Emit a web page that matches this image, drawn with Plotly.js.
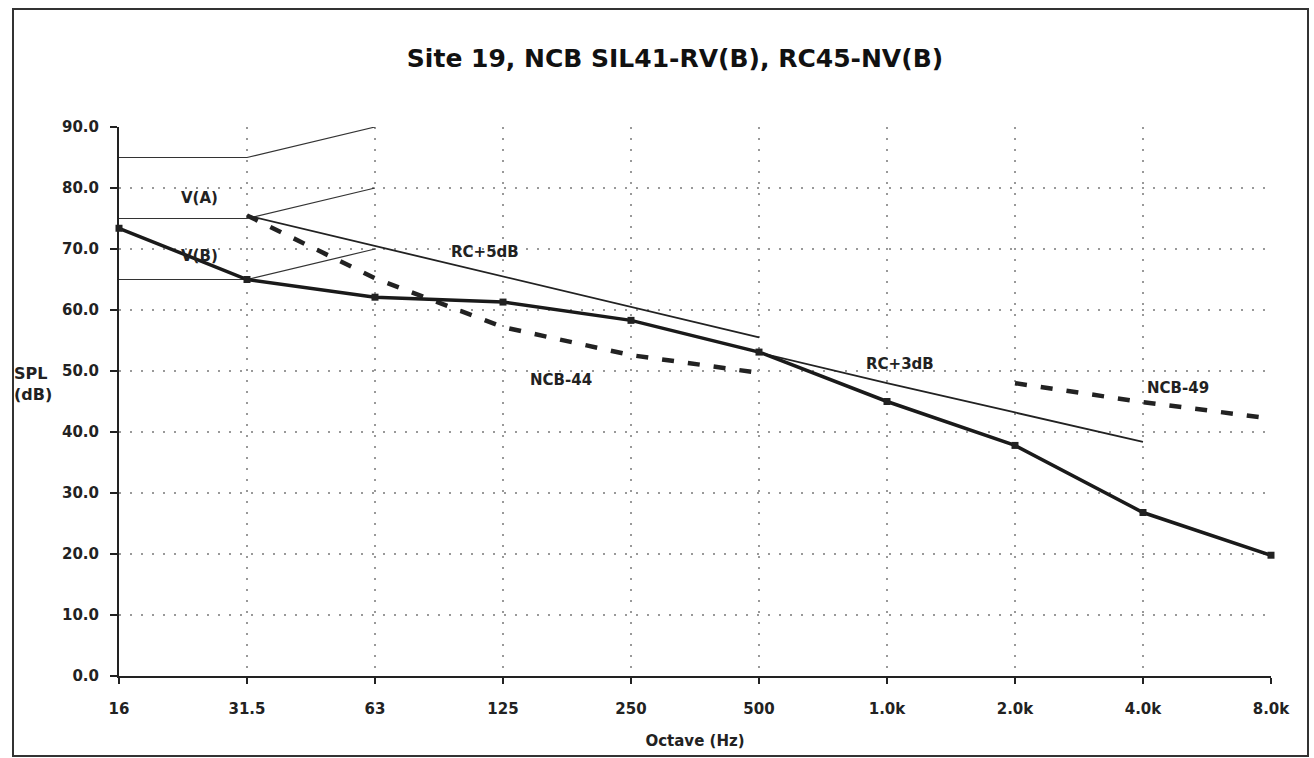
<!DOCTYPE html>
<html>
<head>
<meta charset="utf-8">
<script src="https://cdn.plot.ly/plotly-3.0.1.min.js"></script>
<style>
  html, body { margin: 0; padding: 0; background: #fff; }
  #chart { width: 1314px; height: 758px; }
  #frame { position: absolute; left: 12px; top: 8px; width: 1293px; height: 745px;
           border: 2px solid #333; pointer-events: none; }
</style>
</head>
<body>
<div id="chart"></div>
<div id="frame"></div>
<script>
// Octave band centre labels
const bands = ["16", "31.5", "63", "125", "250", "500", "1.0k", "2.0k", "4.0k", "8.0k"];

// Measured spectrum (dB)
const measured = [73.4, 65.0, 62.1, 61.3, 58.3, 53.1, 45.0, 37.8, 26.8, 19.8];

// Vibration limit curves V(A)/V(B) region (16 - 63 Hz)
const vBands = ["16", "31.5", "63"];
const vTop = [85, 85, 90];
const vA = [75, 75, 80];
const vB = [65, 65, 70];

// RC+5dB (31.5 - 500 Hz)
const rc5Bands = ["31.5", "63", "125", "250", "500"];
const rc5 = [75.5, 70.5, 65.5, 60.5, 55.5];

// RC+3dB (500 - 4k Hz)
const rc3Bands = ["500", "1.0k", "2.0k", "4.0k"];
const rc3 = [53.0, 48.0, 43.2, 38.4];

// NCB-44 (31.5 - 500 Hz)
const ncb44Bands = ["31.5", "63", "125", "250", "500"];
const ncb44 = [75.5, 65.2, 57.2, 52.6, 49.7];

// NCB-49 (2k - 8k Hz)
const ncb49Bands = ["2.0k", "4.0k", "8.0k"];
const ncb49 = [48.0, 44.9, 42.2];

// Y axis ticks
const yTicks = [0, 10, 20, 30, 40, 50, 60, 70, 80, 90];
const yTickText = yTicks.map(v => v.toFixed(1));

const FONT = "DejaVu Sans, Arial, sans-serif";
const thin = {color: "#333", width: 1.2};

const traces = [
  {x: vBands, y: vTop, mode: "lines", line: thin, hoverinfo: "skip"},
  {x: vBands, y: vA, mode: "lines", line: thin, hoverinfo: "skip"},
  {x: vBands, y: vB, mode: "lines", line: thin, hoverinfo: "skip"},
  {x: rc5Bands, y: rc5, mode: "lines", line: {color: "#222", width: 1.8}},
  {x: rc3Bands, y: rc3, mode: "lines", line: {color: "#222", width: 1.8}},
  {x: ncb44Bands, y: ncb44, mode: "lines", line: {color: "#222", width: 4.5, dash: "12px,14px"}},
  {x: ncb49Bands, y: ncb49, mode: "lines", line: {color: "#222", width: 4.5, dash: "12px,14px"}},
  {x: bands, y: measured, mode: "lines+markers", line: {color: "#1a1a1a", width: 3.5},
   marker: {symbol: "square", size: 7, color: "#222"}, cliponaxis: false}
];

const lblFont = {family: FONT, size: 15, color: "#222", weight: "bold"};
function lbl(text, x, y) {
  return {text: text, x: x, y: y, xref: "x", yref: "y", showarrow: false, font: lblFont};
}

const layout = {
  width: 1314, height: 758,
  margin: {l: 119, r: 43, t: 127, b: 82},
  paper_bgcolor: "#fff", plot_bgcolor: "#fff",
  showlegend: false,
  title: {
    text: "Site 19, NCB SIL41-RV(B), RC45-NV(B)",
    x: 675 / 1314, xref: "container", xanchor: "center",
    y: 1 - 58 / 758, yref: "container", yanchor: "middle",
    font: {family: FONT, size: 25, color: "#111", weight: "bold"}
  },
  xaxis: {
    type: "category", categoryorder: "array", categoryarray: bands,
    range: [0, 9],
    showline: true, linecolor: "#222", linewidth: 2,
    ticks: "outside", ticklen: 6, tickcolor: "#222", tickwidth: 1.5,
    ticklabelstandoff: 12,
    showgrid: true, gridcolor: "#999", griddash: "2px,9px", gridwidth: 1.5,
    tickfont: {family: FONT, size: 15, color: "#222", weight: "bold"},
    zeroline: false,
    title: {text: "Octave (Hz)", standoff: 18,
            font: {family: FONT, size: 15, color: "#222", weight: "bold"}}
  },
  yaxis: {
    range: [0, 90],
    tickvals: yTicks, ticktext: yTickText,
    showline: true, linecolor: "#222", linewidth: 2,
    ticks: "outside", ticklen: 7, tickcolor: "#222", tickwidth: 1.5,
    ticklabelstandoff: 8,
    showgrid: true, gridcolor: "#999", griddash: "2px,9px", gridwidth: 1.5,
    tickfont: {family: FONT, size: 15, color: "#222", weight: "bold"},
    zeroline: false
  },
  annotations: [
    {text: "SPL<br>(dB)", xref: "paper", yref: "paper",
     x: (33 - 119) / 1152, y: (676 - 384) / 549, xanchor: "center", yanchor: "middle",
     showarrow: false, align: "left", font: {family: FONT, size: 16, color: "#222", weight: "bold"}},
    lbl("V(A)", 0.63, 78.4),
    lbl("V(B)", 0.63, 68.9),
    lbl("RC+5dB", 2.86, 69.5),
    lbl("NCB-44", 3.45, 48.5),
    lbl("RC+3dB", 6.1, 51.2),
    lbl("NCB-49", 8.27, 47.2)
  ]
};

Plotly.newPlot("chart", traces, layout, {displayModeBar: false, staticPlot: true});
</script>
</body>
</html>
